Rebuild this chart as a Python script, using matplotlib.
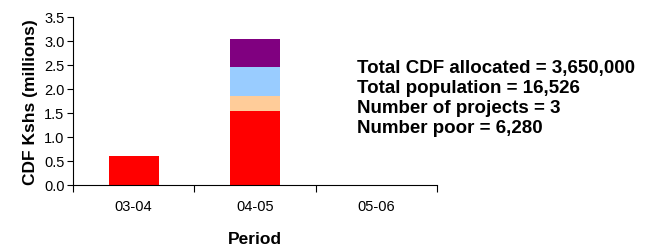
import matplotlib
matplotlib.use('Agg')
import matplotlib.pyplot as plt
import numpy as np

plt.rcParams['font.family'] = ['Liberation Sans', 'DejaVu Sans']

periods = ['03-04', '04-05', '05-06']
red = [0.6, 1.55, 0.0]
peach = [0.0, 0.30, 0.0]
blue = [0.0, 0.60, 0.0]
purple = [0.0, 0.60, 0.0]
info = ['Total CDF allocated = 3,650,000',
        'Total population = 16,526',
        'Number of projects = 3',
        'Number poor = 6,280']

fig = plt.figure(figsize=(6.45, 2.53), dpi=100)
ax = fig.add_axes([0.113, 0.265, 0.565, 0.664])

x = np.arange(len(periods))
w = 0.41
bottom = np.zeros(len(periods))
for vals, col in [(red, '#FF0000'), (peach, '#FFCC99'), (blue, '#99CCFF'), (purple, '#800080')]:
    ax.bar(x, vals, w, bottom=bottom, color=col, linewidth=0)
    bottom = bottom + np.array(vals)

ax.set_xlim(-0.5, 2.5)
ax.set_ylim(0, 3.5)
yt = np.arange(0, 3.51, 0.5)
ax.set_yticks(yt)
ax.set_yticklabels(['%.1f' % v for v in yt], fontsize=10.5)
ax.set_xticks([-0.5, 0.5, 1.5, 2.5])
ax.set_xticklabels([])
ax.set_xticks(x, minor=True)
ax.set_xticklabels(periods, minor=True, fontsize=10.5)
ax.tick_params(axis='x', which='minor', length=0, pad=10)
ax.tick_params(axis='x', which='major', length=5, direction='out')
ax.tick_params(axis='y', length=4, direction='out', pad=2)
ax.spines['top'].set_visible(False)
ax.spines['right'].set_visible(False)
ax.set_ylabel('CDF Kshs (millions)', fontsize=12.5, fontweight='bold', labelpad=4)
ax.set_xlabel('Period', fontsize=12.5, fontweight='bold', labelpad=13)

for i, line in enumerate(info):
    fig.text(0.553, 0.73 - i * 0.079, line, fontsize=13.5, fontweight='bold', va='center')

fig.savefig('out.png', dpi=100)
